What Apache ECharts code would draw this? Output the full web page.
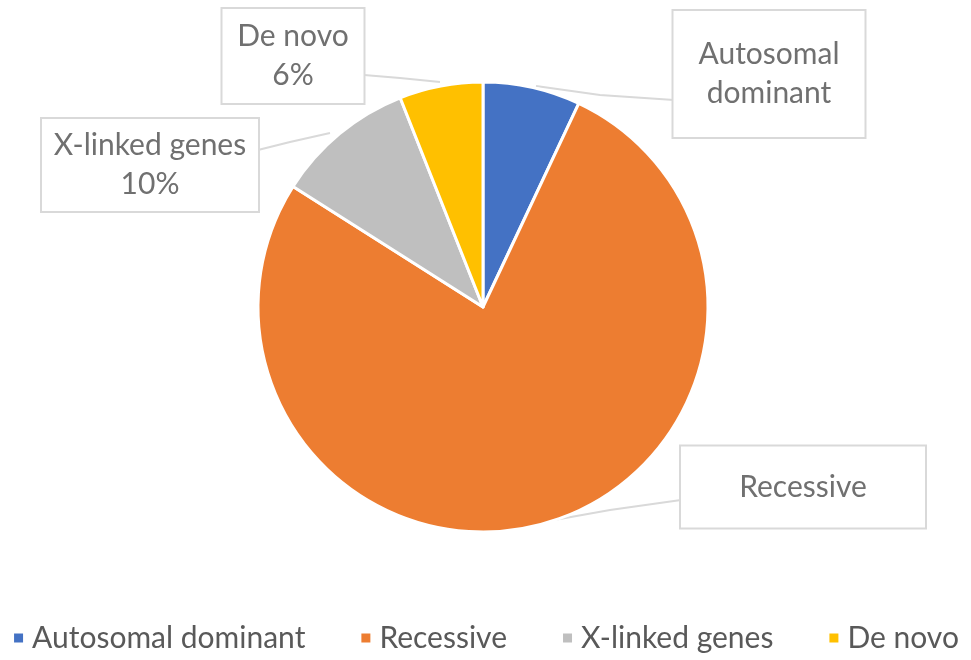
<!DOCTYPE html>
<html>
<head>
<meta charset="utf-8">
<script src="https://cdn.jsdelivr.net/npm/echarts@6/dist/echarts.min.js"></script>
<style>html,body{margin:0;padding:0;background:#fff}#c{width:971px;height:660px}</style>
</head>
<body>
<div id="c"></div>
<script>
const categories = ['Autosomal dominant', 'Recessive', 'X-linked genes', 'De novo'];
const values = [7, 77, 10, 6];
const labelTexts = ['Autosomal\ndominant', 'Recessive', 'X-linked genes\n{d}%', 'De novo\n{d}%'];
const colors = ['#4472C4', '#ED7D31', '#BFBFBF', '#FFC000'];

// callout box styling (layout only)
const boxes = [
  {w: 191, pad: [24, 0], cx: 769, cy: 74, line: [[536, 86], [600, 95], [674, 100]]},
  {w: 244, pad: [21, 0], cx: 803, cy: 487, line: [[543, 522], [610, 510], [681, 500]]},
  {w: 216, pad: [7, 0], cx: 150, cy: 165, line: [[330, 133], [290, 142], [258, 150]]},
  {w: 141, pad: [8, 0], cx: 293, cy: 56, line: [[440, 82], [400, 78], [364, 75]]}
];

const chart = echarts.init(document.getElementById('c'));
chart.setOption({
  animation: false,
  color: colors,
  legend: {
    bottom: 2,
    left: 'center',
    icon: 'rect',
    itemWidth: 11,
    itemHeight: 11,
    itemGap: 54,
    textStyle: {fontFamily: 'Lato', fontSize: 30, color: '#595959', padding: [0, 0, 0, 3]},
    data: categories
  },
  series: [{
    type: 'pie',
    center: [483, 307],
    radius: 225,
    startAngle: 90,
    clockwise: true,
    avoidLabelOverlap: false,
    itemStyle: {borderColor: '#fff', borderWidth: 3},
    label: {
      show: true,
      fontFamily: 'Lato',
      fontSize: 30,
      lineHeight: 39,
      color: '#707070',
      backgroundColor: '#fff',
      borderColor: '#D9D9D9',
      borderWidth: 2,
      align: 'center'
    },
    labelLine: {show: true, lineStyle: {color: '#D9D9D9', width: 2}},
    labelLayout: function (p) {
      const b = boxes[p.dataIndex];
      return {x: b.cx, y: b.cy, align: 'center', verticalAlign: 'middle', labelLinePoints: b.line};
    },
    data: categories.map((name, i) => ({
      name: name,
      value: values[i],
      label: {formatter: labelTexts[i], width: boxes[i].w, padding: boxes[i].pad}
    }))
  }]
});
</script>
</body>
</html>
